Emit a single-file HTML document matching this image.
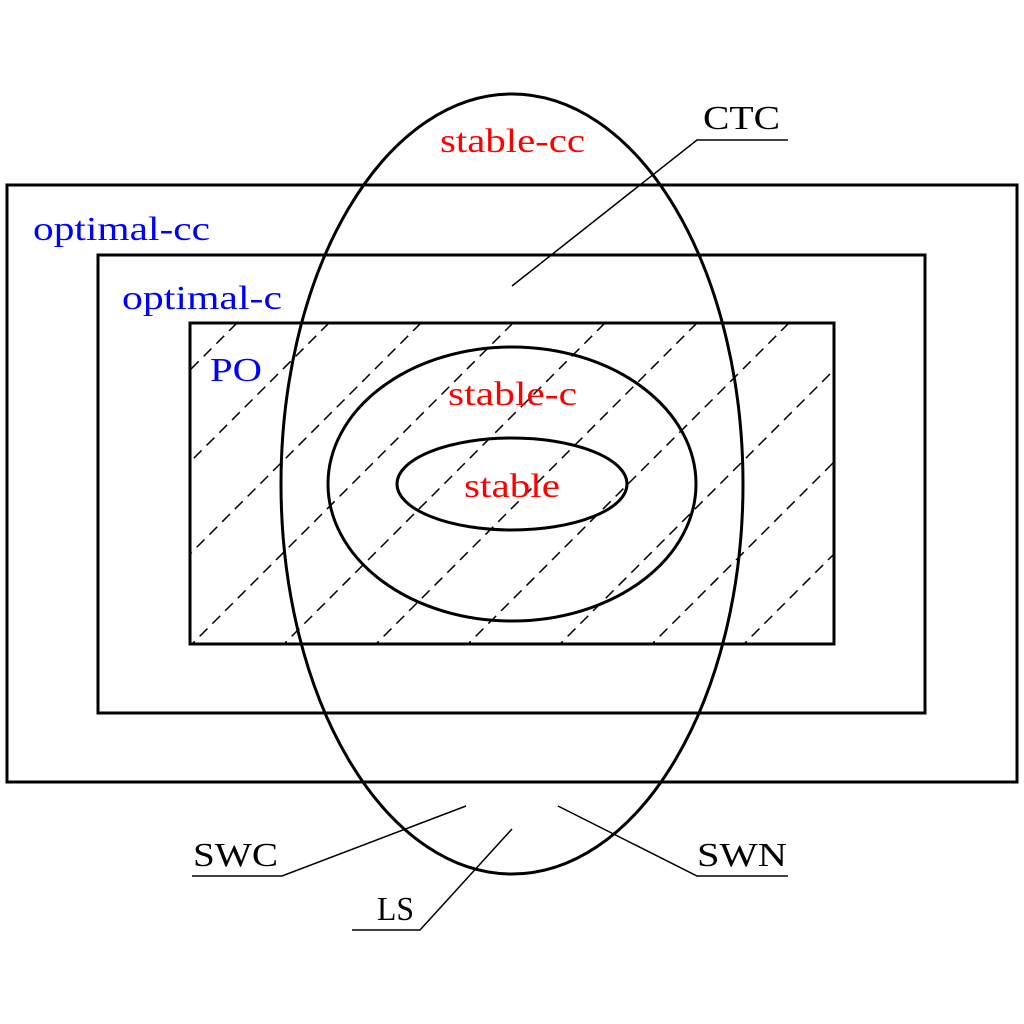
<!DOCTYPE html>
<html><head><meta charset="utf-8"><style>
html,body{margin:0;padding:0;background:#fff;}
svg{display:block;}
text{font-family:"Liberation Serif",serif;font-size:34px;}
</style></head><body>
<svg width="1024" height="1024" viewBox="0 0 1024 1024">
<defs><clipPath id="innerClip"><rect x="190" y="323" width="644" height="321"/></clipPath></defs>
<g id="hatch" clip-path="url(#innerClip)" stroke="#000" stroke-width="1.5" stroke-dasharray="11,7"></g>
<g fill="none" stroke="#000" stroke-width="3">
<rect x="7" y="185" width="1010" height="597"/>
<rect x="98" y="255" width="827" height="458"/>
<rect x="190" y="323" width="644" height="321"/>
<ellipse cx="512" cy="484" rx="231" ry="390"/>
<ellipse cx="512" cy="484" rx="184" ry="137"/>
<ellipse cx="512" cy="484" rx="115" ry="46"/>
</g>
<g stroke="#000" stroke-width="1.5" fill="none">
<polyline points="512,286 697,140 788,140"/>
<polyline points="466,806 282,876 192,876"/>
<polyline points="512,829 420,930 352,930"/>
<polyline points="558,806 697,876 788,876"/>
</g>
<text x="440" y="152" fill="#f00" textLength="145" lengthAdjust="spacingAndGlyphs">stable-cc</text>
<text x="33" y="240" fill="#00f" textLength="177" lengthAdjust="spacingAndGlyphs">optimal-cc</text>
<text x="122" y="309" fill="#00f" textLength="160" lengthAdjust="spacingAndGlyphs">optimal-c</text>
<text x="210" y="381" fill="#00f" textLength="52" lengthAdjust="spacingAndGlyphs">PO</text>
<text x="448" y="405" fill="#f00" textLength="129" lengthAdjust="spacingAndGlyphs">stable-c</text>
<text x="464" y="497" fill="#f00" textLength="96" lengthAdjust="spacingAndGlyphs">stable</text>
<text x="703" y="129" fill="#000" textLength="77" lengthAdjust="spacingAndGlyphs">CTC</text>
<text x="193" y="866" fill="#000" textLength="85" lengthAdjust="spacingAndGlyphs">SWC</text>
<text x="377" y="920" fill="#000" textLength="37" lengthAdjust="spacingAndGlyphs">LS</text>
<text x="697" y="866" fill="#000" textLength="90" lengthAdjust="spacingAndGlyphs">SWN</text>
</svg>
<script>
var g=document.getElementById('hatch');
for(var k=-6;k<10;k++){
  var c=192+644+92*k;
  var l=document.createElementNS('http://www.w3.org/2000/svg','line');
  l.setAttribute('x1',c-700);l.setAttribute('y1',700);
  l.setAttribute('x2',c-200);l.setAttribute('y2',200);
  
  
  g.appendChild(l);
}
</script>
</body></html>
